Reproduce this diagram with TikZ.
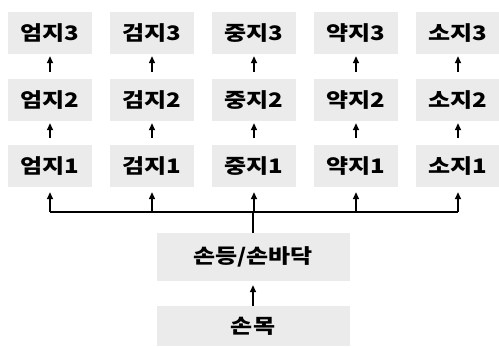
\documentclass[tikz,border=0pt]{standalone}
\usepackage{fontspec}
\newfontfamily\kr{Noto Sans CJK KR Black}[FakeStretch=1.2]
\usetikzlibrary{arrows.meta}
\begin{document}
\begin{tikzpicture}[x=1pt,y=-1pt,
  box/.style={fill=black!8, minimum width=84pt, minimum height=42pt, inner sep=0pt,
    font=\kr\fontsize{20}{22}\selectfont},
  big/.style={box, minimum width=193pt, minimum height=48pt},
  arr/.style={-{Triangle[length=7pt,width=6pt]}, line width=1.4pt},
  ln/.style={line width=1.4pt}]
\useasboundingbox (0,0) rectangle (499,347);
\foreach \n/\t/\x in {a/엄지/50, b/검지/152, c/중지/254, d/약지/356, e/소지/458}{
  \node[box] (\n3) at (\x,33) {\t3};
  \node[box] (\n2) at (\x,100) {\t2};
  \node[box] (\n1) at (\x,166) {\t1};
  \draw[arr, shorten <=7pt, shorten >=2pt] (\n2.north) -- (\n3.south);
  \draw[arr, shorten <=7pt, shorten >=2pt] (\n1.north) -- (\n2.south);
}
\node[big] (hand) at (253,257) {손등/손바닥};
\node[box, minimum width=193pt, minimum height=40pt] (wrist) at (253,326) {손목};
\coordinate (bus) at (254,212);
\draw[ln] (a1.south |- bus) -- (e1.south |- bus);
\foreach \n in {a,b,c,d,e}{
  \draw[arr, shorten >=5pt] (\n1.south |- bus) -- (\n1.south);
}
\draw[ln] (hand.north) -- (hand.north |- bus);
\draw[arr, shorten >=4pt] (wrist.north) -- (hand.south);
\end{tikzpicture}
\end{document}
